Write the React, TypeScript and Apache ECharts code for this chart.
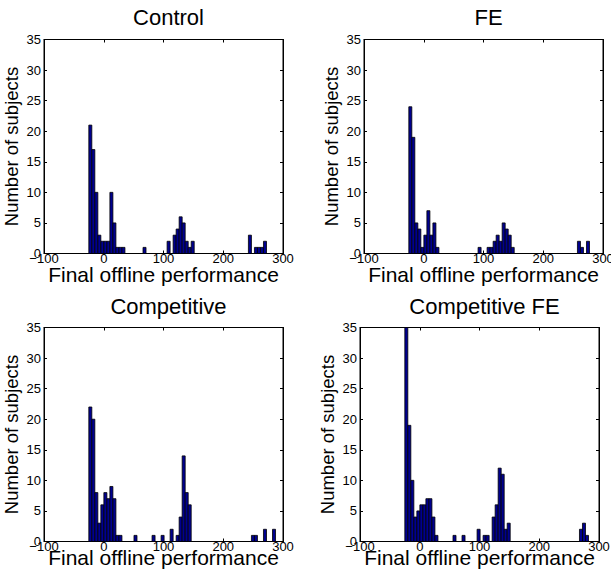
import React, { useEffect, useRef } from "react";
import * as echarts from "echarts";

// Histogram bins (same bin edges for every panel)
const BIN_START = -25;
const BIN_WIDTH = 5.04;

const panelTitles = ["Control", "FE", "Competitive", "Competitive FE"];

const controlCounts = [
  21, 17, 10, 3, 2, 2, 2, 10, 5, 1, 1, 1,
  0, 0, 0, 0, 0, 0,
  1,
  0, 0, 0, 0, 0, 0, 0,
  2, 0, 3, 4, 6, 5, 2, 1, 2,
  0, 0, 0, 0, 0, 0, 0, 0, 0, 0, 0, 0, 0, 0, 0, 0, 0, 0,
  3, 0, 1, 1, 1, 2,
];

const feCounts = [
  24, 19, 5, 4, 1, 3, 7, 3, 5, 1,
  0, 0, 0, 0, 0, 0, 0, 0, 0, 0, 0, 0, 0,
  1, 0, 0,
  1, 1, 2, 3, 2, 5, 4, 3, 1,
  0, 0, 0, 0, 0, 0, 0, 0, 0, 0, 0, 0, 0, 0, 0, 0, 0, 0, 0, 0, 0,
  2, 1, 0, 2,
];

const competitiveCounts = [
  22, 20, 8, 3, 6, 8, 7, 9, 7, 1, 1,
  0, 0, 0, 0,
  1,
  0, 0, 0, 0, 0,
  1, 0, 0,
  1, 0, 0,
  2, 0,
  1, 4, 14, 8, 6,
  0, 0, 0, 0, 0, 0, 0, 0, 0, 0, 0, 0, 0, 0, 0, 0, 0, 0, 0, 0,
  1, 1, 0, 0, 2, 0, 0, 2,
];

const competitiveFeCounts = [
  35, 19, 10, 4, 5, 6, 6, 7, 7, 4, 1,
  0, 0, 0, 0, 0,
  1, 0, 0,
  1, 0, 0, 0, 0,
  2, 0,
  1, 1, 0,
  4, 6, 12, 11, 2, 3,
  0, 0, 0, 0, 0, 0, 0, 0, 0, 0, 0, 0, 0, 0, 0, 0, 0, 0, 0, 0, 0, 0, 0,
  2, 3, 1,
];

const panelCounts = [controlCounts, feCounts, competitiveCounts, competitiveFeCounts];

const X_MIN = -100;
const X_MAX = 300;
const X_INTERVAL = 100;
const Y_MIN = 0;
const Y_MAX = 35;
const Y_INTERVAL = 5;

const X_NAME = "Final offline performance";
const Y_NAME = "Number of subjects";

const FONT = "'Liberation Sans', Arial, Helvetica, sans-serif";

const grids = [
  { left: 44, top: 39.5, width: 239, height: 214, nameGap: 10, titleTop: 1 },
  { left: 364, top: 39.5, width: 239, height: 214, nameGap: 10, titleTop: 1 },
  { left: 44, top: 327.5, width: 239, height: 214, nameGap: 5, titleTop: 290 },
  { left: 360, top: 327.5, width: 239, height: 214, nameGap: 5, titleTop: 290 },
];

function fmtX(v: number) {
  return v < 0 ? "\u2212" + Math.abs(v) : String(v);
}

export default function App() {
  const ref = useRef<HTMLDivElement | null>(null);

  useEffect(() => {
    if (!ref.current) return;
    const chart = echarts.init(ref.current, undefined, { renderer: "svg" });

    const xAxes: any[] = [];
    const yAxes: any[] = [];
    const series: any[] = [];
    const titles: any[] = [];

    grids.forEach((g, i) => {
      const lineStyle = { color: "#000", width: 1 };
      const tick = { show: true, inside: true, length: 3, lineStyle };
      xAxes.push({
        gridIndex: i,
        type: "value",
        position: "bottom",
        min: X_MIN,
        max: X_MAX,
        interval: X_INTERVAL,
        axisLine: { show: true, onZero: false, lineStyle },
        axisTick: tick,
        splitLine: { show: false },
        axisLabel: {
          color: "#000",
          fontSize: 13,
          fontFamily: FONT,
          margin: -2,
          formatter: fmtX,
        },
        name: X_NAME,
        nameLocation: "middle",
        nameGap: g.nameGap,
        nameMoveOverlap: false,
        nameTextStyle: { color: "#000", fontSize: 21, fontFamily: FONT, verticalAlign: "top" },
      });
      xAxes.push({
        gridIndex: i,
        type: "value",
        position: "top",
        min: X_MIN,
        max: X_MAX,
        interval: X_INTERVAL,
        axisLine: { show: true, onZero: false, lineStyle },
        axisTick: tick,
        splitLine: { show: false },
        axisLabel: { show: false },
      });
      yAxes.push({
        gridIndex: i,
        type: "value",
        position: "left",
        min: Y_MIN,
        max: Y_MAX,
        interval: Y_INTERVAL,
        axisLine: { show: true, onZero: false, lineStyle },
        axisTick: tick,
        splitLine: { show: false },
        axisLabel: { color: "#000", fontSize: 13, fontFamily: FONT, margin: 3 },
        name: Y_NAME,
        nameLocation: "middle",
        nameRotate: 90,
        nameGap: 23,
        nameMoveOverlap: false,
        nameTextStyle: { color: "#000", fontSize: 18.5, fontFamily: FONT, verticalAlign: "bottom" },
      });
      yAxes.push({
        gridIndex: i,
        type: "value",
        position: "right",
        min: Y_MIN,
        max: Y_MAX,
        interval: Y_INTERVAL,
        axisLine: { show: true, onZero: false, lineStyle },
        axisTick: tick,
        splitLine: { show: false },
        axisLabel: { show: false },
      });

      const data = panelCounts[i].map((c, k) => [
        BIN_START + k * BIN_WIDTH,
        BIN_START + (k + 1) * BIN_WIDTH,
        c,
      ]);

      series.push({
        type: "custom",
        coordinateSystem: "cartesian2d",
        xAxisIndex: 2 * i,
        yAxisIndex: 2 * i,
        data,
        encode: { x: [0, 1], y: 2 },
        renderItem: (params: any, api: any) => {
          const x0 = api.value(0);
          const x1 = api.value(1);
          const c = api.value(2);
          if (!c) return null;
          const p0 = api.coord([x0, c]);
          const p1 = api.coord([x1, 0]);
          return {
            type: "rect",
            shape: { x: p0[0], y: p0[1], width: p1[0] - p0[0], height: p1[1] - p0[1] },
            style: { fill: "#00008F", stroke: "#000", lineWidth: 0.8 },
          };
        },
      });

      titles.push({
        text: panelTitles[i],
        left: g.left + g.width / 2,
        top: g.titleTop,
        textAlign: "center",
        textStyle: { color: "#000", fontSize: 22, fontWeight: "normal", fontFamily: FONT },
      });
    });

    chart.setOption({
      animation: false,
      backgroundColor: "#fff",
      title: titles,
      grid: grids.map((g) => ({
        left: g.left,
        top: g.top,
        width: g.width,
        height: g.height,
        outerBoundsMode: "none",
        containLabel: false,
        show: true,
        backgroundColor: "#fff",
        borderColor: "#000",
        borderWidth: 1,
      })),
      xAxis: xAxes,
      yAxis: yAxes,
      series,
    });

    return () => chart.dispose();
  }, []);

  return (
    <div
      ref={ref}
      style={{ position: "absolute", left: 0, top: 0, width: 611, height: 573, background: "#fff" }}
    />
  );
}
